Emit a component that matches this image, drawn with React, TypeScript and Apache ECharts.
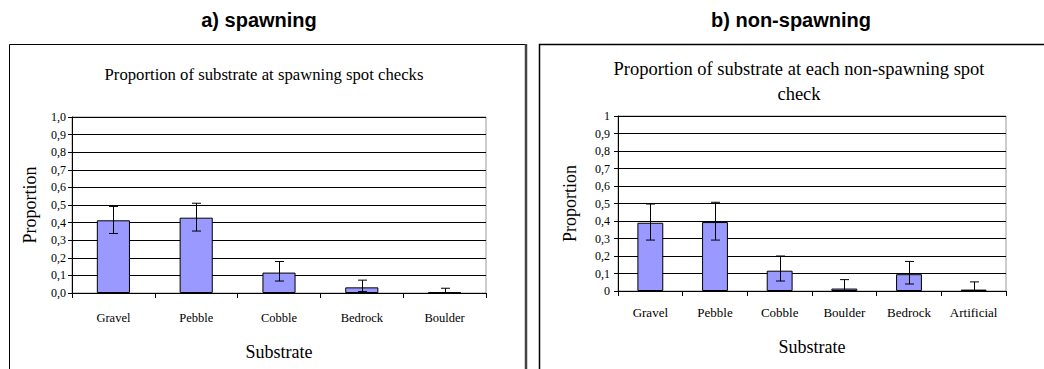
import React, { useEffect, useRef } from "react";
import * as echarts from "echarts";

const catsA = ["Gravel", "Pebble", "Cobble", "Bedrock", "Boulder"];
const valsA = [0.413, 0.428, 0.116, 0.032, 0.004];
const loA = [0.338, 0.352, 0.068, 0.008, 0.0];
const hiA = [0.492, 0.51, 0.179, 0.073, 0.027];

const catsB = ["Gravel", "Pebble", "Cobble", "Boulder", "Bedrock", "Artificial"];
const valsB = [0.39, 0.394, 0.116, 0.014, 0.096, 0.008];
const loB = [0.291, 0.291, 0.057, 0.0, 0.04, 0.0];
const hiB = [0.497, 0.507, 0.2, 0.065, 0.169, 0.052];

const yTicks = [0, 1, 0.1];

const SERIF = "'Liberation Serif', 'Times New Roman', serif";
const SANS = "'Liberation Sans', Arial, sans-serif";

function errRender(lo: number[], hi: number[]) {
  return (params: any, api: any) => {
    const i = api.value(0);
    const pHi = api.coord([i, hi[i]]);
    const pLo = api.coord([i, lo[i]]);
    const x = Math.round(pHi[0]) + 0.5;
    const hw = 4.5;
    const st = { stroke: "#000", lineWidth: 1, fill: null };
    return {
      type: "group",
      children: [
        { type: "line", shape: { x1: x, y1: pHi[1], x2: x, y2: pLo[1] }, style: st },
        { type: "line", shape: { x1: x - hw, y1: pHi[1], x2: x + hw, y2: pHi[1] }, style: st },
        { type: "line", shape: { x1: x - hw, y1: pLo[1], x2: x + hw, y2: pLo[1] }, style: st },
      ],
    };
  };
}

export default function App() {
  const ref = useRef<HTMLDivElement>(null);
  useEffect(() => {
    if (!ref.current) return;
    const chart = echarts.init(ref.current, null, { renderer: "svg" });
    const fmtA = (v: number) => v.toFixed(1).replace(".", ",");
    const fmtB = (v: number) =>
      v === 0 ? "0" : v === 1 ? "1" : v.toFixed(1).replace(".", ",");
    const yAxisCommon = (fmt: (v: number) => string, margin: number, nameGap: number) => ({
      type: "value",
      min: yTicks[0],
      max: yTicks[1],
      interval: yTicks[2],
      name: "Proportion",
      nameLocation: "middle",
      nameGap,
      nameTextStyle: { fontFamily: SERIF, fontSize: 18, color: "#000" },
      axisLine: { show: true, lineStyle: { color: "#000", width: 1 } },
      axisTick: { show: true, inside: false, length: 4, lineStyle: { color: "#000" } },
      axisLabel: { formatter: fmt, margin, fontFamily: SERIF, fontSize: 12, color: "#000" },
      splitLine: { show: true, lineStyle: { color: "#000", width: 1 } },
    });
    const xAxisCommon = (cats: string[], margin: number, nameGap: number, fs: number) => ({
      type: "category",
      data: cats,
      name: "Substrate",
      nameLocation: "middle",
      nameGap,
      nameTextStyle: { fontFamily: SERIF, fontSize: 18, color: "#000" },
      axisLine: { show: true, lineStyle: { color: "#000", width: 1 } },
      axisTick: { show: true, alignWithLabel: false, length: 5, lineStyle: { color: "#000" } },
      axisLabel: { margin, fontFamily: SERIF, fontSize: fs, color: "#000", interval: 0 },
      splitLine: { show: false },
    });
    const barStyle = { color: "#9999ff", borderColor: "#000", borderWidth: 1 };
    chart.setOption({
      animation: false,
      backgroundColor: "#fff",
      grid: [
        { left: 72, top: 117, width: 414, height: 176, show: true, borderColor: "#999", borderWidth: 1, backgroundColor: "transparent" },
        { left: 618, top: 116, width: 388, height: 175, show: true, borderColor: "#999", borderWidth: 1, backgroundColor: "transparent" },
      ],
      xAxis: [
        { ...xAxisCommon(catsA, 18, 50, 12.5), gridIndex: 0 },
        { ...xAxisCommon(catsB, 15, 47, 13), gridIndex: 1 },
      ],
      yAxis: [
        { ...yAxisCommon(fmtA, 6, 33), gridIndex: 0 },
        { ...yAxisCommon(fmtB, 8, 39), gridIndex: 1 },
      ],
      series: [
        {
          type: "bar",
          xAxisIndex: 0,
          yAxisIndex: 0,
          data: valsA,
          barWidth: "40%",
          itemStyle: barStyle,
        },
        {
          type: "custom",
          xAxisIndex: 0,
          yAxisIndex: 0,
          data: catsA.map((_, i) => [i, hiA[i]]),
          renderItem: errRender(loA, hiA),
          z: 5,
        },
        {
          type: "bar",
          xAxisIndex: 1,
          yAxisIndex: 1,
          data: valsB,
          barWidth: "40%",
          itemStyle: barStyle,
        },
        {
          type: "custom",
          xAxisIndex: 1,
          yAxisIndex: 1,
          data: catsB.map((_, i) => [i, hiB[i]]),
          renderItem: errRender(loB, hiB),
          z: 5,
        },
      ],
      graphic: [
        { type: "rect", shape: { x: 9.5, y: 44.5, width: 516, height: 340 }, style: { fill: "none", stroke: "#000", lineWidth: 1 }, z: -1 },
        { type: "line", shape: { x1: 526, y1: 44, x2: 526, y2: 380 }, style: { stroke: "#444", lineWidth: 2.5 }, z: -1 },
        { type: "rect", shape: { x: 539.5, y: 44.5, width: 520, height: 340 }, style: { fill: "none", stroke: "#000", lineWidth: 1.5 }, z: -1 },
        { type: "text", x: 259, y: 20, style: { text: "a) spawning", font: `bold 20px ${SANS}`, fill: "#000", align: "center", verticalAlign: "middle" } },
        { type: "text", x: 791, y: 20, style: { text: "b) non-spawning", font: `bold 20px ${SANS}`, fill: "#000", align: "center", verticalAlign: "middle" } },
        { type: "text", x: 264, y: 74, style: { text: "Proportion of substrate at spawning spot checks", font: `16.7px ${SERIF}`, fill: "#000", align: "center", verticalAlign: "middle" } },
        { type: "text", x: 799, y: 69, style: { text: "Proportion of substrate at each non-spawning spot", font: `18.5px ${SERIF}`, fill: "#000", align: "center", verticalAlign: "middle" } },
        { type: "text", x: 799, y: 94, style: { text: "check", font: `18.5px ${SERIF}`, fill: "#000", align: "center", verticalAlign: "middle" } },
      ],
    });
    return () => chart.dispose();
  }, []);
  return (
    <div
      ref={ref}
      style={{ position: "fixed", left: 0, top: 0, width: 1044, height: 369, background: "#fff" }}
    />
  );
}
